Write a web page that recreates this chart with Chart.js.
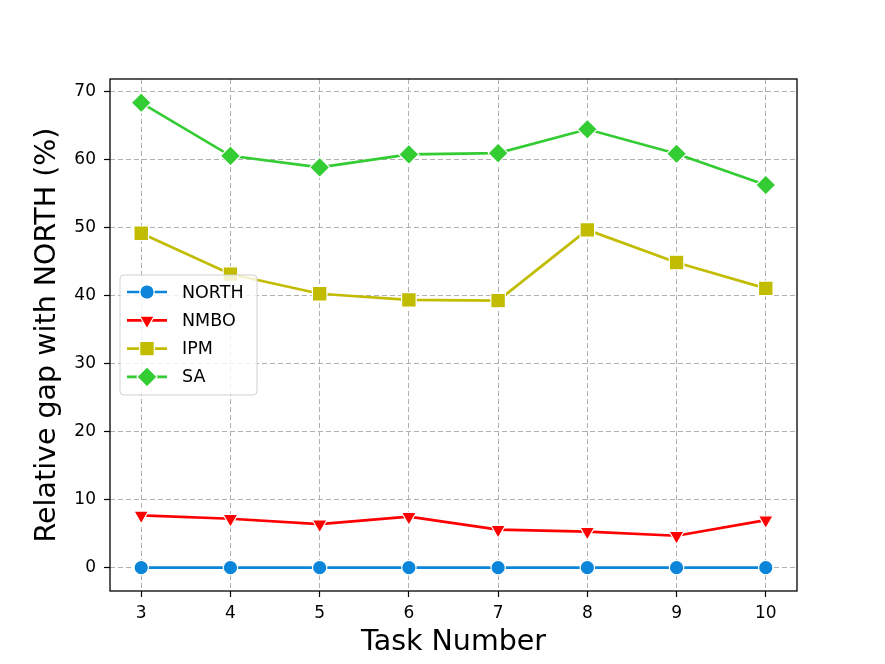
<!DOCTYPE html>
<html>
<head>
<meta charset="utf-8">
<script src="https://cdn.jsdelivr.net/npm/chart.js@4.4.0/dist/chart.umd.min.js"></script>
<style>
  html, body { margin: 0; padding: 0; background: #fff; }
  #wrap { width: 885px; height: 664px; }
</style>
</head>
<body>
<div id="wrap"><canvas id="gap-chart" width="885" height="664"></canvas></div>
<script>
// Data
var tasks = [3, 4, 5, 6, 7, 8, 9, 10];
var northGap = [0, 0, 0, 0, 0, 0, 0, 0];
var nmboGap = [7.7, 7.2, 6.4, 7.5, 5.6, 5.3, 4.7, 7.0];
var ipmGap = [49.2, 43.2, 40.3, 39.4, 39.3, 49.7, 44.9, 41.1];
var saGap = [68.4, 60.6, 58.9, 60.8, 61.0, 64.5, 60.9, 56.3];
var yTicks = [0, 10, 20, 30, 40, 50, 60, 70];

var FONT = "'DejaVu Sans', sans-serif";

function toPoints(vals) {
    return vals.map(function (v, i) { return {x: tasks[i], y: v}; });
}

function series(label, vals, color, style, radius, rotation) {
    return {
        label: label,
        data: toPoints(vals),
        borderColor: color,
        backgroundColor: color,
        borderWidth: 2.7,
        pointStyle: style,
        pointRadius: radius,
        pointHoverRadius: radius,
        pointRotation: rotation || 0,
        pointBackgroundColor: color,
        pointBorderColor: "#ffffff",
        pointBorderWidth: 1.2,
        tension: 0
    };
}

var datasets = [
    series("NORTH", northGap, "#0a85d9", "circle", 7.2),
    series("NMBO", nmboGap, "#ff0000", "triangle", 8.5, 180),
    series("IPM", ipmGap, "#c2bc00", "rect", 10.3),
    series("SA", saGap, "#33cc33", "rectRot", 10)
];

// Frame round the plot area, like the matplotlib spines
var framePlugin = {
    id: "frame",
    afterDatasetsDraw: function (chart) {
        var a = chart.chartArea, ctx = chart.ctx;
        ctx.save();
        ctx.strokeStyle = "#000";
        ctx.lineWidth = 1.3;
        ctx.strokeRect(a.left, a.top, a.right - a.left, a.bottom - a.top);
        ctx.restore();
    }
};

// Legend box drawn inside the axes, line + marker handles
var legendPlugin = {
    id: "innerLegend",
    afterDraw: function (chart) {
        var ctx = chart.ctx;
        var box = {x: 120, y: 275, w: 137, h: 120};
        ctx.save();
        ctx.beginPath();
        ctx.roundRect(box.x, box.y, box.w, box.h, 4);
        ctx.fillStyle = "rgba(255,255,255,0.8)";
        ctx.fill();
        ctx.strokeStyle = "#d0d0d0";
        ctx.lineWidth = 1;
        ctx.stroke();

        chart.data.datasets.forEach(function (ds, i) {
            var cy = 292 + i * 28.3;
            ctx.strokeStyle = ds.borderColor;
            ctx.lineWidth = 2.7;
            ctx.beginPath();
            ctx.moveTo(127, cy);
            ctx.lineTo(167, cy);
            ctx.stroke();
            ctx.fillStyle = ds.pointBackgroundColor;
            ctx.strokeStyle = "#ffffff";
            ctx.lineWidth = 1.2;
            Chart.helpers.drawPoint(ctx, {
                pointStyle: ds.pointStyle,
                radius: ds.pointRadius,
                rotation: ds.pointRotation,
                borderWidth: 1.2
            }, 147, cy);
            ctx.fillStyle = "#000";
            ctx.font = "17.5px " + FONT;
            ctx.textBaseline = "middle";
            ctx.textAlign = "left";
            ctx.fillText(ds.label, 182, cy + 1);
        });
        ctx.restore();
    }
};

var ctx = document.getElementById("gap-chart").getContext("2d");
var gapChart = new Chart(ctx, {
    type: "line",
    data: { datasets: datasets },
    options: {
        responsive: false,
        animation: false,
        layout: { padding: { left: 0, right: 88, top: 79, bottom: 0 } },
        plugins: {
            legend: { display: false },
            tooltip: { enabled: false }
        },
        scales: {
            x: {
                type: "linear",
                min: 2.65,
                max: 10.35,
                afterBuildTicks: function (scale) {
                    scale.ticks = tasks.map(function (v) { return {value: v}; });
                },
                afterFit: function (scale) { scale.height = 73; },
                grid: {
                    color: "#b0b0b0",
                    lineWidth: 1,
                    drawTicks: true,
                    tickLength: 6,
                    tickColor: "#000",
                    tickWidth: 1.2
                },
                border: { display: false, dash: [5, 3] },
                ticks: {
                    color: "#000",
                    padding: 6,
                    maxRotation: 0,
                    font: { family: FONT, size: 17 }
                },
                title: {
                    display: true,
                    text: "Task Number",
                    color: "#000",
                    font: { family: FONT, size: 28.5 },
                    padding: { top: 0, bottom: 4 }
                }
            },
            y: {
                type: "linear",
                min: -3.43,
                max: 71.9,
                afterBuildTicks: function (scale) {
                    scale.ticks = yTicks.map(function (v) { return {value: v}; });
                },
                afterFit: function (scale) { scale.width = 110; },
                grid: {
                    color: "#b0b0b0",
                    lineWidth: 1,
                    drawTicks: true,
                    tickLength: 6,
                    tickColor: "#000",
                    tickWidth: 1.2
                },
                border: { display: false, dash: [5, 3] },
                ticks: {
                    color: "#000",
                    padding: 8,
                    font: { family: FONT, size: 17 }
                },
                title: {
                    display: true,
                    text: "Relative gap with NORTH (%)",
                    color: "#000",
                    font: { family: FONT, size: 28.5 },
                    padding: { top: 30, bottom: 0 }
                }
            }
        }
    },
    plugins: [framePlugin, legendPlugin]
});
</script>
</body>
</html>
